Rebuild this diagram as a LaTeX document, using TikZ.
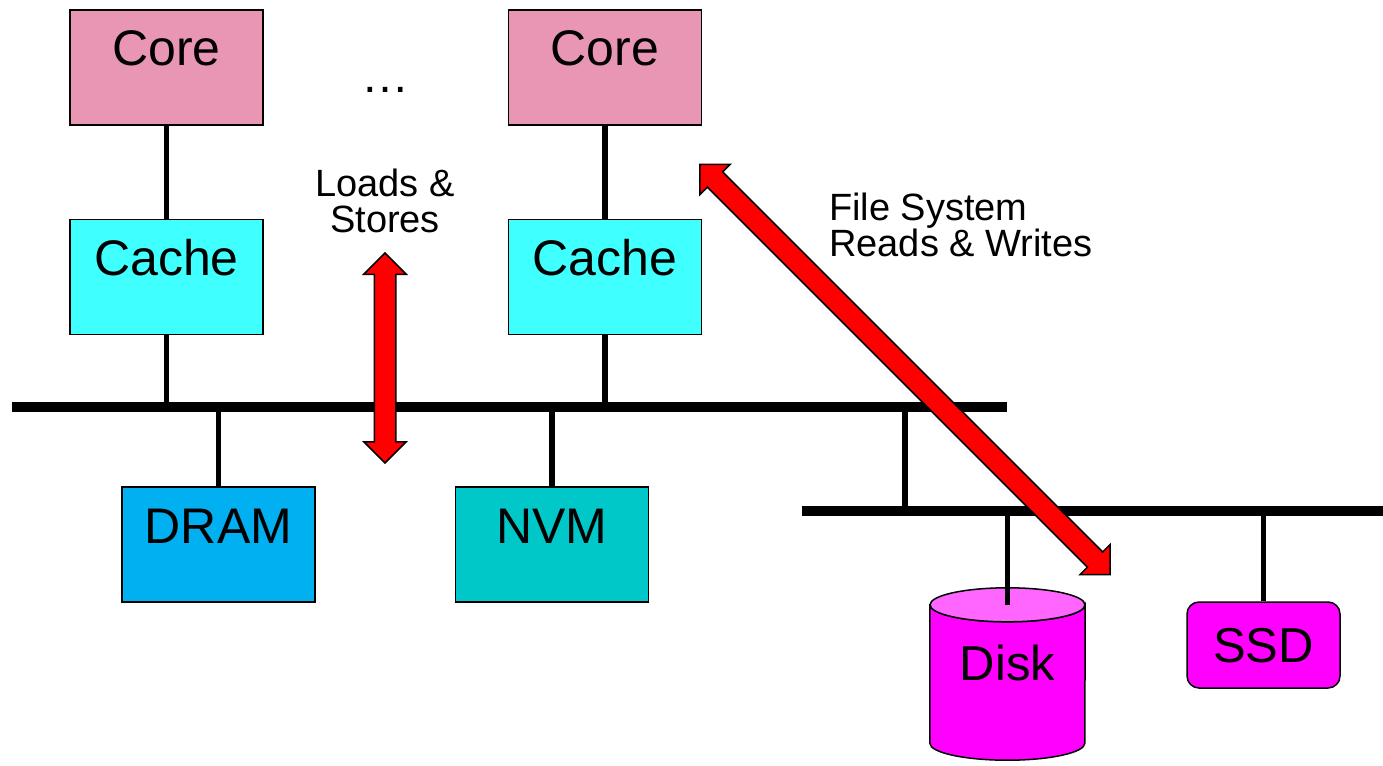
\documentclass[tikz,border=0pt]{standalone}
\usepackage{fontspec}
\setmainfont{Liberation Sans}
\usetikzlibrary{positioning, shapes.arrows, backgrounds}
\definecolor{corepink}{RGB}{233,150,180}
\definecolor{cachecyan}{RGB}{64,255,255}
\definecolor{dramblue}{RGB}{0,176,240}
\definecolor{nvmteal}{RGB}{0,200,200}
\definecolor{disktop}{RGB}{255,102,255}
\definecolor{diskbody}{RGB}{255,0,255}
\tikzset{
x=1bp, y=-1bp, % one unit per pixel, y grows downwards
box/.style={draw, line width=1.5bp, minimum width=193bp, inner sep=0pt,
  text height=56bp, text depth=59bp, font=\fontsize{50bp}{54bp}\selectfont}, % label sits near the top
core/.style={box, fill=corepink},
cache/.style={box, fill=cachecyan},
disk/.style={minimum width=155bp, inner sep=0pt, text height=92bp, text depth=80bp,
  font=\fontsize{49bp}{54bp}\selectfont},
ssd/.style={draw, line width=1.5bp, rounded corners=12bp, fill=diskbody, minimum width=153bp,
  inner sep=0pt, text height=60bp, text depth=26bp, font=\fontsize{49bp}{54bp}\selectfont},
bus/.style={line width=10bp},
link/.style={line width=5.5bp},
flow/.style={double arrow, draw, line width=1.5bp, fill=red, inner sep=10bp,
  double arrow head extend=10.5bp}, % fat red arrows, shaft 20bp wide
note/.style={font=\fontsize{38bp}{35.5bp}\selectfont, inner sep=0pt},
}

\begin{document}
\begin{tikzpicture}
  \useasboundingbox (0,0) rectangle (1383,765);

  % cores and their caches
  \node[core] (core1) at (166.5,67.5) {Core};
  \node[core, right=244bp of core1] (core2) {Core};
  \node[cache, below=93bp of core1] (cache1) {Cache};
  \node[cache, below=93bp of core2] (cache2) {Cache};
  \node[anchor=base, font=\fontsize{48bp}{52bp}\selectfont] (dots) at (385,92) {…};

  % memory bus and I/O bus
  \coordinate (bus1w) at (12,407);
  \coordinate (bus1e) at (1007,407);
  \coordinate (bus2w) at (802,511);
  \coordinate (bus2e) at (1383,511);
  \coordinate (bridge) at (905,407);
  \draw[bus] (bus1w) -- (bus1e);
  \draw[bus] (bus2w) -- (bus2e);

  % memories and storage
  \node[box, fill=dramblue] (dram) at (218.5,544.5) {DRAM};
  \node[box, fill=nvmteal] (nvm) at (552,544.5) {NVM};
  \node[ssd] (ssd) at (1263.5,645) {SSD};
  \node[disk, minimum height=172bp] (disk) at (1007.5,674) {Disk};
  \begin{scope}[on background layer]
    \filldraw[line width=1.5bp, fill=diskbody] ([yshift=-17bp]disk.north west)
      -- ([yshift=17bp]disk.south west) arc[start angle=180, end angle=360, x radius=77.5bp, y radius=17bp]
      -- ([yshift=-17bp]disk.north east) arc[start angle=0, end angle=-180, x radius=77.5bp, y radius=17bp]
      -- cycle;
    \filldraw[line width=1.5bp, fill=disktop] ([yshift=-17bp]disk.north) ellipse [x radius=77.5bp, y radius=17bp];
  \end{scope}

  \draw[link] (core1) -- (cache1);
  \draw[link] (core2) -- (cache2);
  \draw[link] (cache1) -- (cache1 |- bus1w);
  \draw[link] (cache2) -- (cache2 |- bus1w);
  \draw[link] (dram) -- (dram |- bus1w);
  \draw[link] (nvm) -- (nvm |- bus1w);
  \draw[link] (bridge) -- (bridge |- bus2w);
  \draw[link] (ssd) -- (ssd |- bus2w);
  \draw[link] ([yshift=-17bp]disk.north) -- (disk |- bus2w);

  % access paths
  \node[flow, minimum height=210bp, rotate=90] (ldst) at (385,358) {};
  \node[flow, minimum height=580bp, rotate=-45] (fsrw) at (905,369.5) {};
  \node[note, align=center, anchor=north] (ldsttext) at (385,169) {Loads \&\\Stores};
  \node[note, align=left, anchor=north west] (fsrwtext) at (829,193) {File System\\Reads \& Writes};
\end{tikzpicture}
\end{document}
